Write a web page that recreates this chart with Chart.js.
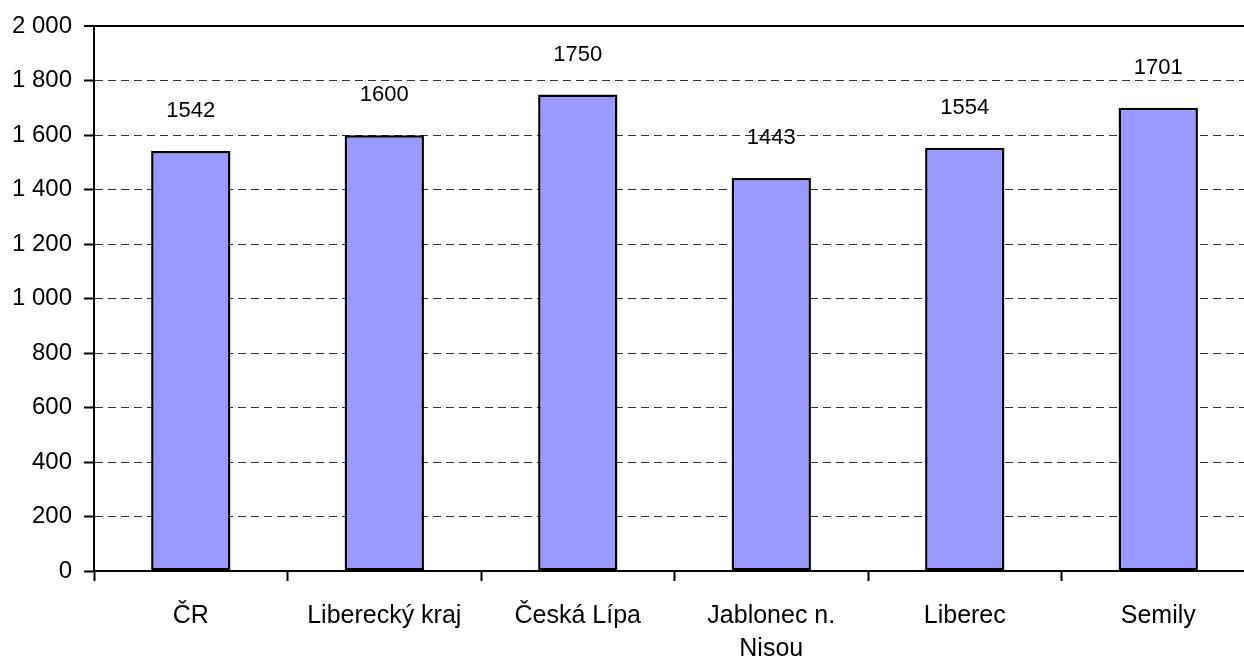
<!DOCTYPE html>
<html>
<head>
<meta charset="utf-8">
<script src="https://cdn.jsdelivr.net/npm/chart.js@4/dist/chart.umd.min.js"></script>
<style>
  html, body { margin: 0; padding: 0; background: #fff; overflow: hidden; }
  #wrap { width: 1255px; height: 663px; }
</style>
</head>
<body>
<div id="wrap"><canvas id="resultChart" width="1255" height="663"></canvas></div>
<script>
// data
const categories = ['ČR', 'Liberecký kraj', 'Česká Lípa', ['Jablonec n.', 'Nisou'], 'Liberec', 'Semily'];
const values = [1542, 1600, 1750, 1443, 1554, 1701];
const yTickLabels = ['0', '200', '400', '600', '800', '1 000', '1 200', '1 400', '1 600', '1 800', '2 000'];

const fontFamily = '"Liberation Sans", Arial, sans-serif';

// numbers above the bars
const valueLabels = {
    id: 'valueLabels',
    afterDatasetsDraw(chart) {
        const ctx = chart.ctx;
        const meta = chart.getDatasetMeta(0);
        ctx.save();
        ctx.font = '22px ' + fontFamily;
        ctx.fillStyle = '#000';
        ctx.textAlign = 'center';
        ctx.textBaseline = 'middle';
        meta.data.forEach(function(bar, i) {
            ctx.fillText(String(values[i]), bar.x, bar.y - 40);
        });
        ctx.restore();
    }
};

let chart = document.getElementById('resultChart');
window.myBar = new Chart(chart, {
    type: 'bar',
    data: {
        labels: categories,
        datasets: [{
            data: values,
            backgroundColor: '#9999FF',
            borderColor: '#000',
            borderWidth: 2.5,
            borderSkipped: false,
            categoryPercentage: 0.41,
            barPercentage: 1.0
        }]
    },
    options: {
        responsive: false,
        animation: false,
        layout: { padding: { top: 12, left: 0, right: 0, bottom: -21 } },
        plugins: {
            legend: { display: false },
            title: { display: false },
            tooltip: { enabled: false }
        },
        scales: {
            x: {
                grid: {
                    drawOnChartArea: false,
                    drawTicks: true,
                    tickLength: 10,
                    tickColor: '#000',
                    tickWidth: 2,
                    offset: true
                },
                border: { display: true, color: '#000', width: 2 },
                ticks: {
                    color: '#000',
                    padding: 19,
                    maxRotation: 0,
                    autoSkip: false,
                    font: { family: fontFamily, size: 25, lineHeight: 1.3 }
                }
            },
            y: {
                min: 0,
                max: 2000,
                grid: {
                    color: function(c) { return c.tick && c.tick.value === 2000 ? '#000' : '#333'; },
                    lineWidth: function(c) { return c.tick && c.tick.value === 2000 ? 2 : 1; },
                    drawTicks: true,
                    tickLength: 10,
                    tickColor: '#000',
                    tickWidth: 2
                },
                border: {
                    display: true,
                    color: '#000',
                    width: 2,
                    dash: function(c) { return c.tick && c.tick.value === 2000 ? [] : [8, 5]; }
                },
                ticks: {
                    stepSize: 200,
                    color: '#000',
                    padding: 12,
                    font: { family: fontFamily, size: 24 },
                    callback: function(value, index) { return yTickLabels[index]; }
                }
            }
        }
    },
    plugins: [valueLabels]
});
</script>
</body>
</html>
